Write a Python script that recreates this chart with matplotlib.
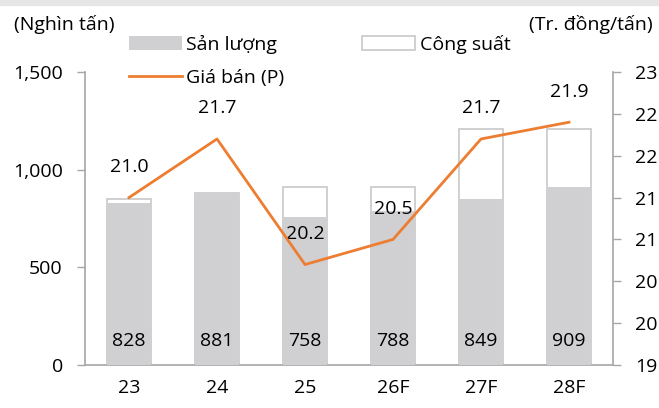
import math
import matplotlib.pyplot as plt
from matplotlib.patches import Rectangle
from matplotlib.ticker import FuncFormatter, MultipleLocator

years = ['23', '24', '25', '26F', '27F', '28F']
san_luong = [828, 881, 758, 788, 849, 909]
cong_suat = [850, 881, 910, 910, 1210, 1210]
gia_ban = [21.0, 21.7, 20.2, 20.5, 21.7, 21.9]

plt.rcParams['font.family'] = ['Open Sans', 'DejaVu Sans']
plt.rcParams['font.size'] = 14

gray = '#D0D0D2'
edge = '#C8C8C8'
orange = '#ED7D31'
spine = '#A6A6A6'

fig = plt.figure(figsize=(6.59, 4.08), dpi=100)
# cut-off title band at the very top
fig.patches.append(Rectangle((0, 1 - 5 / 408), 1, 5 / 408, transform=fig.transFigure,
                             color='#E6E6E6', zorder=0))

ax = fig.add_axes([85 / 659, 43 / 408, 528 / 659, 293 / 408])
x = range(len(years))
w = 0.51

cap = ax.bar(x, cong_suat, w, color='white', edgecolor=edge, linewidth=1.2, zorder=2,
             label='Công suất')
prod = ax.bar(x, san_luong, w, color=gray, edgecolor='none', zorder=3, label='Sản lượng')
for i, v in enumerate(san_luong):
    ax.text(i, 125, str(v), ha='center', va='center', zorder=5)

ax.set_xlim(-0.5, 5.5)
ax.set_ylim(0, 1500)
ax.yaxis.set_major_locator(MultipleLocator(500))
ax.yaxis.set_major_formatter(FuncFormatter(lambda v, p: f'{v:,.0f}'))
ax.set_xticks(list(x))
ax.set_xticklabels(years)
ax.tick_params(axis='x', length=0, pad=10)
ax.tick_params(axis='y', length=6, width=1, color=spine, pad=10)
for s in ['top', 'right']:
    ax.spines[s].set_visible(False)
for s in ['left', 'bottom']:
    ax.spines[s].set_color(spine)
    ax.spines[s].set_linewidth(1.2)

ax2 = ax.twinx()
line, = ax2.plot(x, gia_ban, color=orange, linewidth=2, zorder=4, label='Giá bán (P)')
for i, v in enumerate(gia_ban):
    ax2.annotate(f'{v:.1f}', (i, v), xytext=(0, 22), textcoords='offset points',
                 ha='center', va='center')
ax2.set_ylim(19, 22.5)
ax2.yaxis.set_major_locator(MultipleLocator(0.5))
ax2.yaxis.set_major_formatter(FuncFormatter(lambda v, p: str(int(math.floor(v + 0.5)))))
ax2.tick_params(axis='y', length=6, width=1, color=spine, pad=10)
for s in ['top', 'left', 'bottom']:
    ax2.spines[s].set_visible(False)
ax2.spines['right'].set_color(spine)
ax2.spines['right'].set_linewidth(1.2)

fig.text(14 / 659, 1 - 25 / 408, '(Nghìn tấn)', ha='left', va='center')
fig.text(653 / 659, 1 - 24 / 408, '(Tr. đồng/tấn)', ha='right', va='center')

fig.legend([prod, line, cap], ['Sản lượng', 'Giá bán (P)', 'Công suất'], ncol=2,
           loc='upper left', bbox_to_anchor=(129 / 659, 1 - 35 / 408), frameon=False,
           borderpad=0, borderaxespad=0, handlelength=2.7, handletextpad=0.25,
           columnspacing=4.0, labelspacing=0.75)

fig.savefig('out.png', dpi=100)
